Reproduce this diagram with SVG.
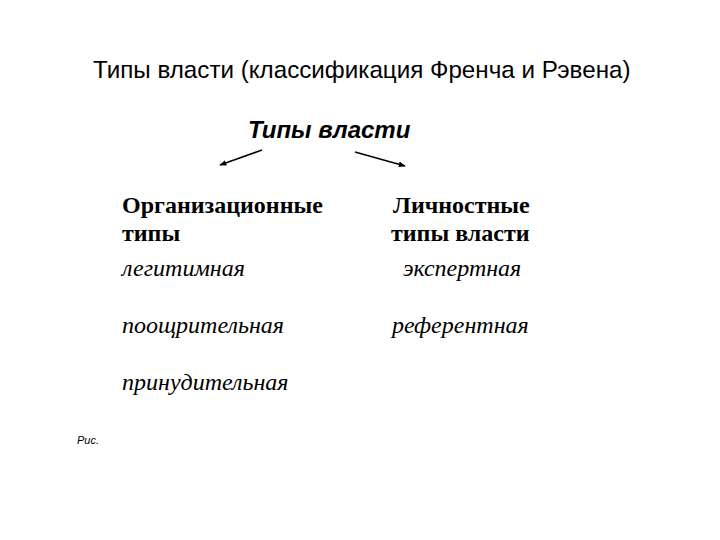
<svg xmlns="http://www.w3.org/2000/svg" width="720" height="540" viewBox="0 0 720 540">
<style>
.title{font-family:"Liberation Sans",Arial,sans-serif;font-size:24.2px;fill:#000}
.head{font-family:"Liberation Sans",Arial,sans-serif;font-size:24px;font-weight:bold;font-style:italic;fill:#000}
.cat{font-family:"Liberation Serif","Times New Roman",serif;font-size:24px;font-weight:bold;fill:#000}
.item{font-family:"Liberation Serif","Times New Roman",serif;font-size:24px;font-style:italic;fill:#000}
.cap{font-family:"Liberation Sans",Arial,sans-serif;font-size:11px;font-style:italic;fill:#000}
.conn{stroke:#000;stroke-width:1.5;fill:none;marker-end:url(#ah)}
</style>
<defs>
<marker id="ah" viewBox="0 0 10 10" refX="9" refY="5" markerWidth="7" markerHeight="7" orient="auto" markerUnits="userSpaceOnUse">
<path d="M0,1 L10,5 L0,9 Z" fill="#000"/>
</marker>
</defs>
<rect width="720" height="540" fill="#fff"/>
<g id="title"><text class="title" x="93" y="78">Типы власти (классификация Френча и Рэвена)</text></g>
<g id="root"><text class="head" x="248" y="138">Типы власти</text></g>
<g id="connectors">
<line class="conn" x1="262" y1="150" x2="220" y2="165"/>
<line class="conn" x1="355" y1="152" x2="405" y2="166"/>
</g>
<g id="org">
<text class="cat" x="122" y="213">Организационные</text>
<text class="cat" x="122" y="241">типы</text>
<text class="item" x="122" y="276">легитимная</text>
<text class="item" x="122" y="333">поощрительная</text>
<text class="item" x="122" y="390">принудительная</text>
</g>
<g id="pers">
<text class="cat" x="393" y="213">Личностные</text>
<text class="cat" x="391" y="241">типы власти</text>
<text class="item" x="403" y="276">экспертная</text>
<text class="item" x="392" y="333">референтная</text>
</g>
<g id="caption"><text class="cap" x="77" y="444">Рис.</text></g>
</svg>
